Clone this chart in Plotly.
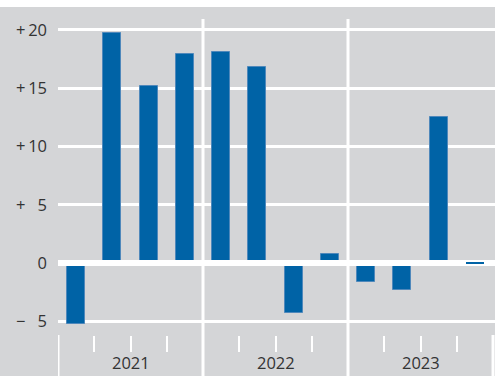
import plotly.graph_objects as go

# Quarterly change, in percent
quarters = ["Q1 2021", "Q2 2021", "Q3 2021", "Q4 2021",
            "Q1 2022", "Q2 2022", "Q3 2022", "Q4 2022",
            "Q1 2023", "Q2 2023", "Q3 2023", "Q4 2023"]
values = [-5.2, 19.7, 15.2, 17.9, 18.1, 16.8, -4.3, 0.8, -1.6, -2.3, 12.5, -0.05]
years = ["2021", "2022", "2023"]
y_ticks = [-5, 0, 5, 10, 15, 20]
y_tick_text = ["\u2212\u2009\u20075", "0", "+\u2009\u20075", "+\u200910", "+\u200915", "+\u200920"]

BG = "#d4d5d7"
BAR = "#0063a6"
BAR_EDGE = "#4f88bb"
TEXT = "#333333"
FONT = "Open Sans"
FS = 16.5

W, H = 495, 376
M_L, M_R, M_T, M_B = 58, 0, 19, 41
plot_h = H - M_T - M_B

xpos = list(range(len(quarters)))
x_lo, x_hi = -0.5, 11.555
y_lo, y_hi = -6.18, 20.94

fig = go.Figure()

# All quarters
fig.add_trace(go.Bar(
    x=xpos, y=values, width=0.5,
    marker=dict(color=BAR, line=dict(color=BAR_EDGE, width=1)),
    hovertext=quarters, showlegend=False,
))

# Thick zero line drawn over the bars
fig.add_trace(go.Scatter(
    x=[x_lo, x_hi], y=[0, 0], mode="lines",
    line=dict(color="white", width=6), hoverinfo="skip", showlegend=False,
))

# Last quarter drawn on an overlay so it stays visible on the zero line
fig.add_trace(go.Bar(
    x=xpos[-1:], y=values[-1:], width=0.5,
    marker=dict(color=BAR, line=dict(width=0)),
    xaxis="x2", yaxis="y2", showlegend=False,
))

# Year separators and quarter ticks
bottom = -M_B / plot_h
shapes = []
for i, b in enumerate([-0.5, 3.5, 7.5, 11.5]):
    top = 0 if i in (0, 3) else 1
    shapes.append(dict(type="line", xref="x", yref="paper", x0=b, x1=b,
                       y0=bottom, y1=top, line=dict(color="white", width=3), layer="above"))
# White strip along the top edge
shapes.append(dict(type="rect", xref="paper", yref="paper", x0=-0.3, x1=1.1,
                   y0=1 + 12 / plot_h, y1=1.2, fillcolor="white", line=dict(width=0), layer="below"))

annotations = [
    dict(x=1.5 + 4 * i, y=-(362 - (H - M_B)) / plot_h, xref="x", yref="paper",
         text=yr, showarrow=False, yanchor="middle", xanchor="center",
         font=dict(family=FONT, size=FS, color=TEXT))
    for i, yr in enumerate(years)
]

fig.update_layout(
    width=W, height=H,
    margin=dict(l=M_L, r=M_R, t=M_T, b=M_B, pad=0),
    paper_bgcolor=BG, plot_bgcolor=BG,
    font=dict(family=FONT, size=FS, color=TEXT),
    showlegend=False, bargap=0,
    shapes=shapes, annotations=annotations,
    xaxis=dict(range=[x_lo, x_hi], showgrid=False, zeroline=False, showline=False,
               tickvals=[0.5, 1.5, 2.5, 4.5, 5.5, 6.5, 8.5, 9.5, 10.5],
               ticktext=[""] * 9, ticks="outside", ticklen=16, tickwidth=2,
               tickcolor="white", fixedrange=True),
    yaxis=dict(range=[y_lo, y_hi], tickvals=y_ticks, ticktext=y_tick_text,
               showgrid=True, gridcolor="white", gridwidth=3, zeroline=False,
               showline=False, ticks="", ticklabelstandoff=10, fixedrange=True,
               tickfont=dict(size=FS)),
    xaxis2=dict(range=[x_lo, x_hi], overlaying="x", visible=False),
    yaxis2=dict(range=[y_lo, y_hi], overlaying="y", visible=False),
)

fig.write_html("out.html")
